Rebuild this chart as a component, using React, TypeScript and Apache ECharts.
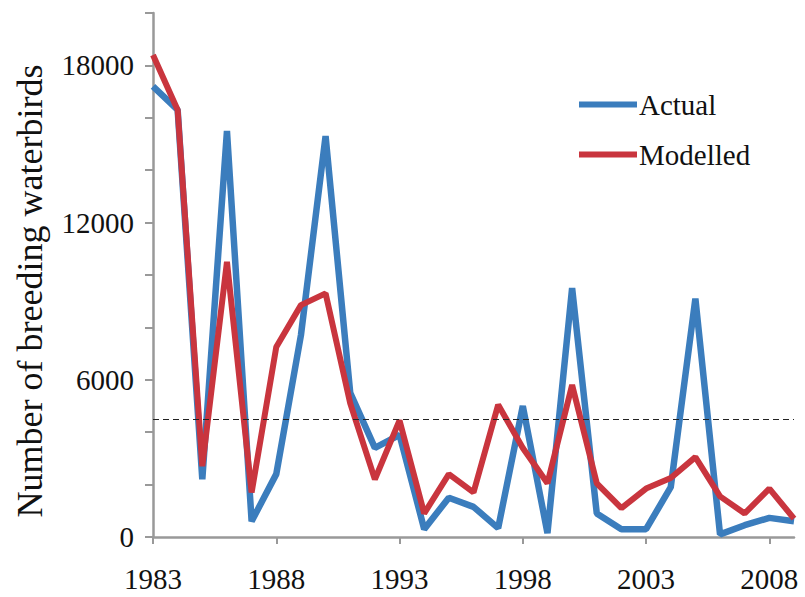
import React, { useEffect, useRef } from "react";
import * as echarts from "echarts";

const years = [
  "1983", "1984", "1985", "1986", "1987", "1988", "1989", "1990", "1991",
  "1992", "1993", "1994", "1995", "1996", "1997", "1998", "1999", "2000",
  "2001", "2002", "2003", "2004", "2005", "2006", "2007", "2008", "2009",
];
const actual = [
  17200, 16300, 2200, 15500, 600, 2400, 7700, 15300, 5500, 3400, 3900, 300,
  1500, 1150, 340, 5000, 150, 9500, 900, 300, 300, 1900, 9100, 100, 450, 730, 600,
];
const modelled = [
  18400, 16300, 2700, 10500, 1700, 7250, 8850, 9300, 5100, 2200, 4450, 900,
  2400, 1700, 5050, 3400, 2050, 5800, 2050, 1100, 1850, 2250, 3050, 1550, 900,
  1850, 700,
];
const threshold = 4500;
const yLabelValues = [0, 6000, 12000, 18000];

const FONT = "Liberation Serif, DejaVu Serif, serif";

export default function App() {
  const ref = useRef<HTMLDivElement>(null);
  useEffect(() => {
    if (!ref.current) return;
    const chart = echarts.init(ref.current, undefined, { renderer: "svg" });
    chart.setOption({
      animation: false,
      backgroundColor: "#ffffff",
      grid: { left: 153, right: 11, top: 13, bottom: 60, containLabel: false },
      legend: {
        left: 579,
        top: 90,
        orient: "vertical",
        padding: 0,
        itemGap: 21,
        icon: "rect",
        itemWidth: 58,
        itemHeight: 6,
        textStyle: { fontFamily: FONT, fontSize: 29, color: "#111111", padding: [0, 0, 0, -3] },
        data: ["Actual", "Modelled"],
      },
      xAxis: {
        type: "category",
        data: years,
        boundaryGap: false,
        axisLine: { lineStyle: { color: "#999999", width: 2.5 } },
        axisTick: { interval: 4, length: 7, lineStyle: { color: "#999999", width: 2 } },
        axisLabel: {
          interval: 4,
          margin: 27,
          fontFamily: FONT,
          fontSize: 29,
          color: "#111111",
        },
        splitLine: { show: false },
      },
      yAxis: {
        type: "value",
        min: 0,
        max: 20000,
        interval: 2000,
        axisLine: { show: true, lineStyle: { color: "#999999", width: 2.5 } },
        axisTick: { show: true, length: 8, lineStyle: { color: "#999999", width: 2 } },
        axisLabel: {
          margin: 19,
          fontFamily: FONT,
          fontSize: 29,
          color: "#111111",
          formatter: (v: number) => (yLabelValues.includes(v) ? String(v) : ""),
        },
        splitLine: { show: false },
      },
      graphic: [
        {
          type: "text",
          x: 30,
          y: 291,
          rotation: Math.PI / 2,
          style: {
            text: "Number of breeding waterbirds",
            fontFamily: FONT,
            fontSize: 36,
            fill: "#111111",
            textAlign: "center",
            textVerticalAlign: "middle",
          },
        },
      ],
      series: [
        {
          name: "Actual",
          type: "line",
          data: actual,
          showSymbol: false,
          symbol: "none",
          lineStyle: { color: "#3b7dbd", width: 6.5 },
          itemStyle: { color: "#3b7dbd" },
          z: 2,
          markLine: {
            silent: true,
            symbol: "none",
            label: { show: false },
            lineStyle: { color: "#222222", width: 1.2, type: [6, 4] },
            data: [{ yAxis: threshold }],
          },
        },
        {
          name: "Modelled",
          type: "line",
          data: modelled,
          showSymbol: false,
          symbol: "none",
          lineStyle: { color: "#c9353e", width: 6 },
          itemStyle: { color: "#c9353e" },
          z: 3,
        },
      ],
    });
    return () => chart.dispose();
  }, []);
  return (
    <div
      ref={ref}
      style={{ position: "fixed", left: 0, top: 0, width: 805, height: 597, background: "#fff" }}
    />
  );
}
